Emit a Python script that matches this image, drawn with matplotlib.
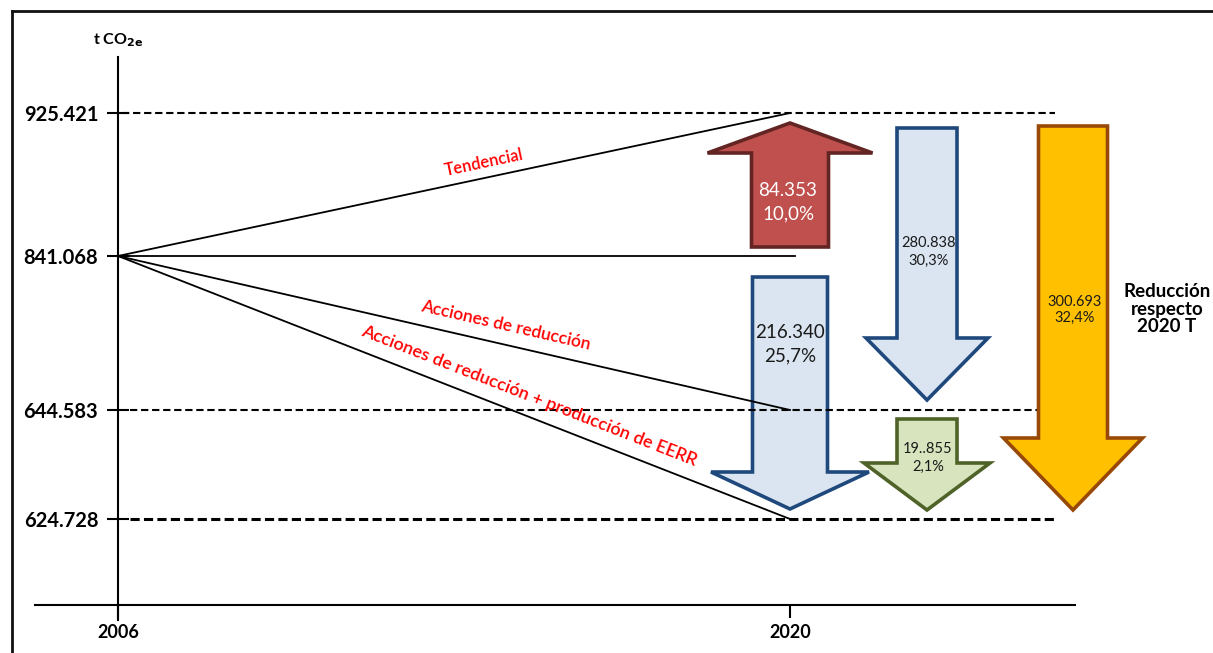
import numpy as np
import matplotlib
matplotlib.use('Agg')
import matplotlib.pyplot as plt
from matplotlib.patches import Polygon
from matplotlib.lines import Line2D
from matplotlib.transforms import IdentityTransform

plt.rcParams['font.family'] = ['Lato', 'DejaVu Sans']

# datos
years = [2006, 2020]
base_2006 = 841.068
tick_values = [925.421, 841.068, 644.583, 624.728]
tick_labels = ['925.421', '841.068', '644.583', '624.728']
scen_names = ['Tendencial', 'Acciones de reducción',
              'Acciones de reducción + producción de EERR']
scen_2020 = [925.421, 644.583, 624.728]

arrow_from = [841.068, 841.068, 925.421, 644.583, 925.421]
arrow_to = [925.421, 624.728, 644.583, 624.728, 624.728]
arrow_text = ['84.353\n10,0%', '216.340\n25,7%', '280.838\n30,3%',
              '19..855\n2,1%', '300.693\n32,4%']

W, H = 1213, 653
fig = plt.figure(figsize=(W / 100, H / 100), dpi=100)
ax = fig.add_axes([0, 0, 1, 1])

# eje vertical no lineal (tramos)
knot_v = [600, 624.728, 644.583, 841.068, 925.421, 1000]
knot_h = [0, 134, 243, 397, 540, 653]


def fwd(v):
    return np.interp(v, knot_v, knot_h)


def inv(h):
    return np.interp(h, knot_h, knot_v)


ax.set_yscale('function', functions=(fwd, inv))
ax.set_ylim(600, 1000)
px_per_year = 48
x0 = 2006 - 118 / px_per_year
ax.set_xlim(x0, x0 + W / px_per_year)


def xpx(p):
    return x0 + p / px_per_year


for s in ['top', 'right']:
    ax.spines[s].set_visible(False)
ax.spines['left'].set_position(('data', 2006))
ax.spines['left'].set_bounds(inv(33), inv(596))
ax.spines['bottom'].set_position(('axes', 48 / H))
ax.spines['bottom'].set_bounds(xpx(35), xpx(1075))
for s in ['left', 'bottom']:
    ax.spines[s].set_linewidth(1.5)

ax.set_xticks(years)
ax.set_xticklabels([str(y) for y in years], fontsize=13, fontweight='bold')
ax.tick_params(axis='x', direction='out', length=9.5, width=1.5, pad=4)
ax.set_yticks(tick_values)
ax.set_yticklabels(tick_labels, fontsize=14.5, fontweight='bold')
ax.tick_params(axis='y', direction='inout', length=16.5, width=1.5, pad=6)
ax.minorticks_off()

ax.text(2006, inv(H - 40), 't CO$_{\\mathbf{2e}}$', ha='center', va='center',
        fontsize=11.5, fontweight='bold')

# lineas discontinuas
ax.plot([xpx(122), xpx(1055)], [tick_values[0]] * 2, color='black', lw=1.5,
        ls=(0, (3.5, 1.8)), zorder=3)
ax.plot([xpx(130), xpx(1055)], [tick_values[2]] * 2, color='black', lw=1.5,
        ls=(0, (3.5, 1.8)), zorder=3)
ax.plot([xpx(130), xpx(1055)], [tick_values[3]] * 2, color='black', lw=2.2,
        ls=(0, (3, 1.4)), zorder=3)

# escenarios
ax.plot([2006, xpx(795)], [base_2006, base_2006], color='black', lw=1.3, zorder=3)
for v in scen_2020:
    ax.plot(years, [base_2006, v], color='black', lw=1.3, zorder=3)

label_t = [0.55, 0.571, 0.601]
label_off = [15, 19, 19]
label_fs = [12, 12.5, 13]
for name, v, t, off, fs in zip(scen_names, scen_2020, label_t, label_off, label_fs):
    p0 = ax.transData.transform((2006, base_2006))
    p1 = ax.transData.transform((2020, v))
    d = p1 - p0
    n = np.array([-d[1], d[0]]) / np.hypot(*d)
    pos = p0 + t * d + n * off
    ang = np.degrees(np.arctan2(d[1], d[0]))
    ax.text(pos[0], pos[1], name, transform=IdentityTransform(), color='#FF0000',
            fontsize=fs, fontweight='semibold', rotation=ang, ha='center',
            va='center', rotation_mode='anchor', zorder=5)


# flechas
def block_arrow(x, v_start, v_end, shaft, head, head_len, ins0, ins1, fc, ec, z):
    px, y0 = ax.transData.transform((x, v_start))
    _, y1 = ax.transData.transform((x, v_end))
    d = np.sign(y1 - y0)
    y0 = y0 + d * ins0
    y1 = y1 - d * ins1
    yb = y1 - d * head_len
    pts = [(px - shaft / 2, y0), (px + shaft / 2, y0), (px + shaft / 2, yb),
           (px + head / 2, yb), (px, y1), (px - head / 2, yb), (px - shaft / 2, yb)]
    data = ax.transData.inverted().transform(pts)
    ax.add_patch(Polygon(data, closed=True, facecolor=fc, edgecolor=ec,
                         lw=2.6, joinstyle='miter', zorder=z))


arrow_x = [2020, 2020, xpx(927), xpx(927), xpx(1073)]
shaft_w = [77, 75, 60, 60, 69]
head_w = [165, 158, 122, 126, 139]
head_l = [30, 37, 62, 47, 72]
ins_start = [9, 21, 15, 9, 13]
ins_end = [10, 10, 10, 9, 9]
fills = ['#C0504D', '#DBE5F1', '#DBE5F1', '#D7E4BD', '#FFC000']
edges = ['#632523', '#1F497D', '#1F497D', '#4F6228', '#984807']
zs = [2, 2, 2, 2, 4]
for i in range(5):
    block_arrow(arrow_x[i], arrow_from[i], arrow_to[i], shaft_w[i], head_w[i],
                head_l[i], ins_start[i], ins_end[i], fills[i], edges[i], zs[i])

text_pos = [(788, 202), (790, 344), (929, 252), (928, 458), (1075, 310)]
text_fs = [13.5, 13.5, 10.5, 10.5, 10.5]
text_col = ['white', '#1a1a1a', '#1a1a1a', '#1a1a1a', '#1a1a1a']
text_ls = [1.5, 1.5, 1.4, 1.4, 1.1]
for txt, (tx, ty), fs, c, ls in zip(arrow_text, text_pos, text_fs, text_col, text_ls):
    fig.text(tx / W, 1 - ty / H, txt, ha='center', va='center', fontsize=fs,
             color=c, linespacing=ls, zorder=6)

fig.text(1167 / W, 1 - 309 / H, 'Reducción\nrespecto\n2020 T', ha='center',
         va='center', fontsize=13.5, fontweight='bold', linespacing=1.05)

# marco
fig.add_artist(Line2D([12 / W, 1], [1 - 11 / H] * 2, color='#111111', lw=2))
fig.add_artist(Line2D([12 / W] * 2, [0, 1 - 11 / H], color='#111111', lw=2))

fig.savefig('out.png', dpi=100)
